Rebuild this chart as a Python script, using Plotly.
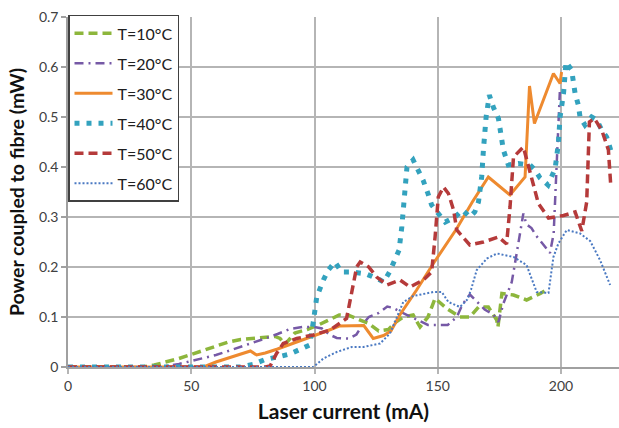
import plotly.graph_objects as go

# ---- data ----
names = ["T=10°C", "T=20°C", "T=30°C", "T=40°C", "T=50°C", "T=60°C"]

x10 = [0, 10, 20, 30, 35, 40, 45, 50, 55, 60, 65, 70, 75, 80, 84, 86, 88, 92, 97, 102, 106, 110, 114, 118, 122, 126, 130, 133, 136, 140, 142.8, 146, 148.9, 153.6, 159, 163, 166.5, 170.5, 173.9, 174.4, 176, 180.7, 186, 191.6, 195]
y10 = [0, 0, 0, 0, 0.004, 0.01, 0.017, 0.025, 0.033, 0.042, 0.05, 0.055, 0.057, 0.059, 0.061, 0.057, 0.045, 0.068, 0.075, 0.085, 0.095, 0.104, 0.103, 0.095, 0.087, 0.072, 0.075, 0.09, 0.1, 0.104, 0.08, 0.1, 0.137, 0.117, 0.1, 0.1, 0.12, 0.12, 0.094, 0.08, 0.147, 0.144, 0.134, 0.147, 0.157]

x20 = [0, 10, 20, 30, 40, 45, 50, 55, 60, 65, 70, 75, 80, 85, 90, 95, 100, 103, 106, 109, 114, 117, 119.5, 122, 126, 129.5, 132, 135, 139, 143, 146, 154, 157.7, 160, 163, 166, 169, 172.5, 174.6, 176.6, 180, 181.3, 184, 184.7, 186, 188, 190, 192.2, 195.5, 197, 198.5, 199.5]
y20 = [0, 0, 0, 0, 0.002, 0.006, 0.012, 0.018, 0.024, 0.032, 0.04, 0.048, 0.057, 0.066, 0.076, 0.08, 0.08, 0.077, 0.065, 0.058, 0.057, 0.065, 0.085, 0.1, 0.108, 0.121, 0.118, 0.11, 0.1, 0.09, 0.084, 0.084, 0.1, 0.125, 0.145, 0.13, 0.115, 0.105, 0.09, 0.127, 0.17, 0.207, 0.285, 0.307, 0.285, 0.278, 0.262, 0.248, 0.228, 0.267, 0.434, 0.55]

x30 = [0, 10, 20, 30, 40, 50, 55, 60, 65, 70, 74, 76.5, 80, 85, 90, 95, 100, 105, 110, 120, 123.8, 128, 131, 134.7, 141.4, 148.2, 157.7, 164, 170.5, 179.3, 185.4, 187.2, 189.2, 196.9, 199.6, 200.2]
y30 = [0, 0, 0, 0, 0, 0, 0, 0.01, 0.018, 0.026, 0.032, 0.024, 0.028, 0.036, 0.045, 0.053, 0.062, 0.072, 0.082, 0.083, 0.057, 0.063, 0.072, 0.105, 0.154, 0.207, 0.277, 0.33, 0.38, 0.344, 0.38, 0.562, 0.487, 0.587, 0.567, 0.59]

x40 = [0, 10, 20, 30, 40, 50, 60, 70, 75, 80, 85, 90, 94, 98, 99.5, 100.9, 103.6, 105.6, 108.3, 111, 115, 121, 126.6, 128, 130.4, 132.4, 134.3, 135.4, 136.7, 137.5, 140, 142, 144, 146, 147.5, 150.2, 153, 157, 160, 163, 165, 166.5, 167.8, 168.5, 169.6, 170.9, 172.5, 174.6, 175.3, 176.6, 178.6, 182.7, 187.4, 189.4, 191.5, 194.7, 197.6, 198.9, 199.6, 201, 202, 204.3, 205, 205.7, 207, 207.7, 209.7, 212.4, 214.5, 216.5, 218.5, 219.9, 220.5]
y40 = [0, 0, 0, 0, 0, 0, 0, 0, 0.005, 0.015, 0.02, 0.026, 0.035, 0.044, 0.09, 0.14, 0.174, 0.194, 0.21, 0.19, 0.19, 0.186, 0.174, 0.17, 0.19, 0.213, 0.234, 0.28, 0.37, 0.40, 0.414, 0.394, 0.374, 0.347, 0.324, 0.307, 0.29, 0.30, 0.314, 0.30, 0.31, 0.33, 0.38, 0.434, 0.50, 0.544, 0.52, 0.497, 0.474, 0.434, 0.404, 0.407, 0.404, 0.394, 0.378, 0.364, 0.397, 0.447, 0.50, 0.547, 0.61, 0.594, 0.57, 0.547, 0.524, 0.50, 0.484, 0.50, 0.494, 0.474, 0.46, 0.44, 0.428]

x50 = [0, 10, 20, 30, 40, 50, 60, 70, 80, 82, 84.6, 87.3, 92.8, 99.5, 106.3, 113, 115.1, 117.1, 118.5, 122, 125.2, 129.3, 134.7, 138.7, 144.1, 147.5, 148.9, 150.2, 152.3, 154.3, 156.4, 157.7, 163, 168.5, 174.6, 177.9, 179.3, 180.7, 184.7, 187.4, 190.8, 194.9, 201, 205.7, 208.4, 210.4, 211.5, 213.5, 216.5, 219.2, 220.1]
y50 = [0, 0, 0, 0, 0, 0, 0, 0, 0, 0.002, 0.027, 0.047, 0.057, 0.064, 0.074, 0.097, 0.147, 0.20, 0.21, 0.2, 0.18, 0.164, 0.174, 0.16, 0.174, 0.19, 0.26, 0.34, 0.36, 0.347, 0.314, 0.274, 0.244, 0.25, 0.26, 0.246, 0.32, 0.42, 0.44, 0.387, 0.327, 0.298, 0.303, 0.31, 0.272, 0.33, 0.49, 0.497, 0.474, 0.434, 0.367]

x60 = [0, 10, 20, 30, 40, 50, 60, 70, 80, 90, 99.5, 103.6, 109, 115.1, 119.8, 126.6, 130.6, 136, 140.1, 148.2, 151.6, 154.3, 159, 162, 163.5, 165.8, 169.9, 174, 180.7, 186, 188.8, 190.1, 194.9, 196.9, 198.9, 202.3, 207.7, 211.8, 215.8, 219.9]
y60 = [0, 0, 0, 0, 0, 0, 0, 0, 0, 0, 0, 0.017, 0.03, 0.04, 0.04, 0.047, 0.067, 0.13, 0.142, 0.15, 0.15, 0.13, 0.12, 0.135, 0.155, 0.194, 0.217, 0.227, 0.22, 0.204, 0.167, 0.15, 0.148, 0.22, 0.247, 0.274, 0.267, 0.252, 0.214, 0.164]

x_ticks = [0, 50, 100, 150, 200]
y_ticks = [0, 0.1, 0.2, 0.3, 0.4, 0.5, 0.6, 0.7]

xs = [x10, x20, x30, x40, x50, x60]
ys = [y10, y20, y30, y40, y50, y60]

styles = [
    dict(color="#8DB63C", width=3.5, dash="9px,5px"),
    dict(color="#7659A6", width=2.5, dash="9px,5px,2px,5px"),
    dict(color="#EE8A2F", width=3),
    dict(color="#33A2BE", width=5, dash="5px,7px"),
    dict(color="#B53A3A", width=3.5, dash="9px,5px"),
    dict(color="#4A79C2", width=2, dash="2px,2px"),
]

fig = go.Figure()
for i, (n, x, y, st) in enumerate(zip(names, xs, ys, styles)):
    fig.add_trace(go.Scatter(x=x, y=y, name=n, mode="lines", line=st,
                             legendgroup=f"g{i}", cliponaxis=False))

font = "Lato, 'Open Sans', 'DejaVu Sans', sans-serif"
fig.update_layout(
    width=619, height=428,
    margin=dict(l=68, r=0, t=17, b=61),
    paper_bgcolor="white", plot_bgcolor="white",
    font=dict(family=font, size=14, color="#404040"),
    showlegend=True,
    legend=dict(x=0, y=1.006, xanchor="left", yanchor="top",
                bgcolor="white", bordercolor="#404040", borderwidth=1.5,
                font=dict(family=font, size=16, color="#202020"),
                tracegroupgap=6.2, itemwidth=38),
)
fig.update_xaxes(
    range=[0, 223.5], tickvals=x_ticks, ticktext=[str(v) for v in x_ticks],
    showgrid=True, gridcolor="#B5B5B5", gridwidth=1.5,
    showline=True, linecolor="#A0A0A0", linewidth=1.5,
    ticks="outside", ticklen=5, tickcolor="#B5B5B5", tickwidth=1.5,
    zeroline=False, layer="below traces",
    tickfont=dict(size=14, color="#404040"),
    title=dict(text="<b>Laser current (mA)</b>", font=dict(size=21, color="#111111"), standoff=12),
)
fig.update_yaxes(
    range=[0, 0.7], tickvals=y_ticks, ticktext=["0"] + [f"{v:.1f}" for v in y_ticks[1:]],
    showgrid=True, gridcolor="#B5B5B5", gridwidth=1.5,
    showline=True, linecolor="#A0A0A0", linewidth=1.5,
    ticks="outside", ticklen=5, tickcolor="#A0A0A0", tickwidth=1.5,
    zeroline=False, layer="below traces",
    tickfont=dict(size=14, color="#404040"),
    title=dict(text="<b>Power coupled to fibre (mW)</b>", font=dict(size=19.5, color="#111111"), standoff=9),
)

fig.write_html("out.html")
